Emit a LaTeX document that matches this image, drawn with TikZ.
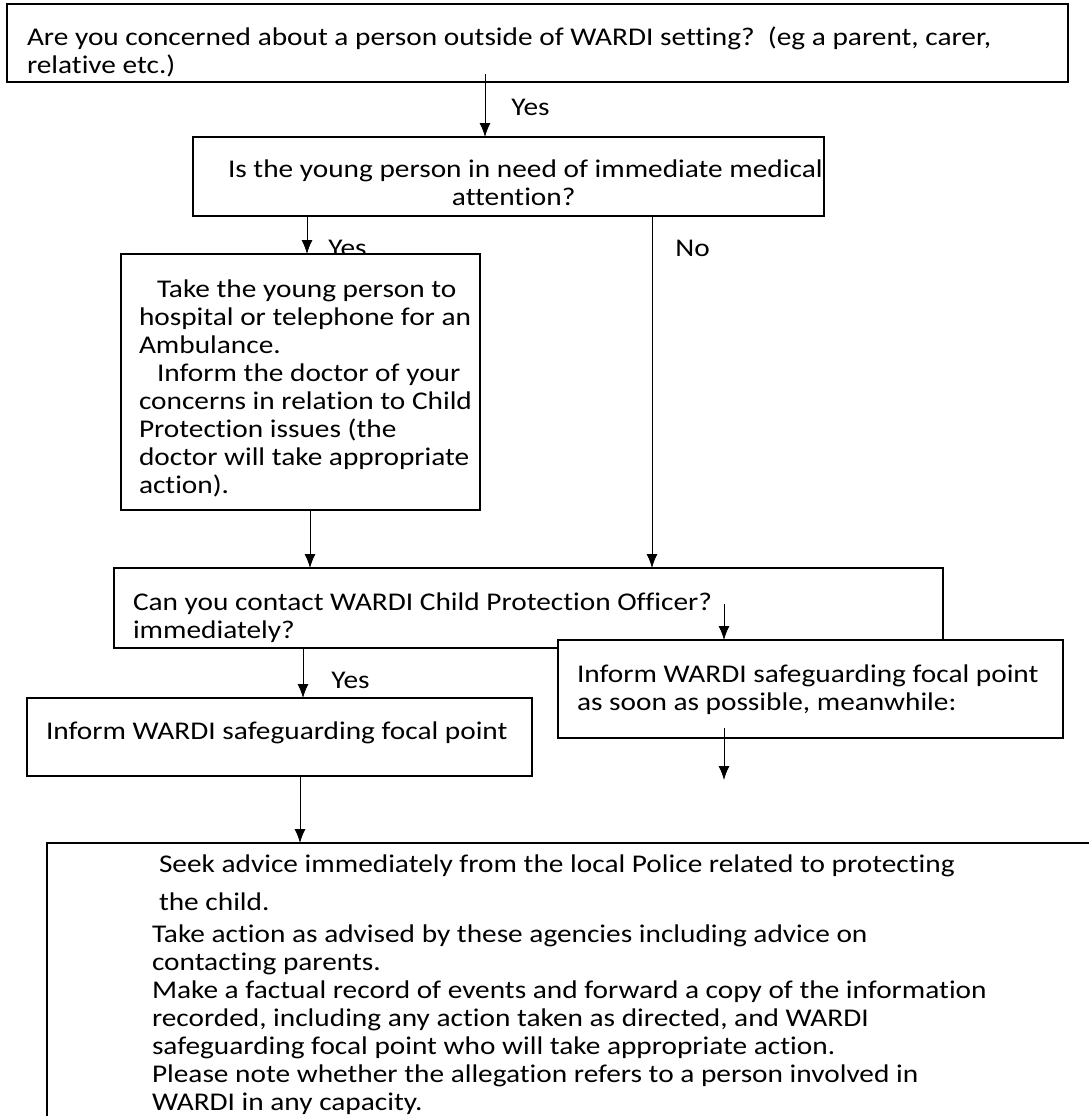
\documentclass[tikz,border=0pt]{standalone}
\usepackage{fontspec}
\setmainfont{Carlito}[FakeStretch=1.15,Ligatures=NoCommon]
\usetikzlibrary{arrows.meta}
\tikzset{box/.style={draw,line width=1pt,fill=white,inner sep=0pt,outer sep=0pt,anchor=north west},
  lab/.style={anchor=base west,inner sep=0pt},
  arr/.style={-{Latex[length=7pt,width=5.5pt]},line width=0.5pt}}
% width, height, left pad, first baseline, lines
\newcommand{\boxtext}[5]{\parbox[t][#2][t]{#1}{\raggedright\leftskip=#3\relax\rightskip=-40pt plus 1fil\relax
  \vspace*{\dimexpr#4-0.7\baselineskip\relax}\strut#5}}

\begin{document}
\begin{tikzpicture}[x=0.5pt,y=-0.5pt,font=\fontsize{12.75}{14}\selectfont]
    \useasboundingbox (0,0) rectangle (1089,1116);

    \node[box] (q1) at (7,4) {\boxtext{530.5pt}{39pt}{10pt}{20.5pt}{Are you concerned about a person outside of WARDI setting?~~(eg a parent, carer,\\relative etc.)}};
    \node[box] (q2) at (193,137) {\boxtext{315.5pt}{39.5pt}{17.5pt}{20pt}{Is the young person in need of immediate medical\\\hspace*{112pt}attention?}};

    \node[lab] (y1) at (511,115) {Yes};
    \node[lab] (y2) at (328,256) {Yes};
    \node[lab] (n1) at (675,256) {No};
    \node[lab] (y3) at (331,688) {Yes};

    \node[box] (a1) at (121,254) {\boxtext{179.5pt}{128pt}{9pt}{21.5pt}{\hspace*{9pt}Take the young person to\\hospital or telephone for an\\Ambulance.\\\hspace*{9pt}Inform the doctor of your\\concerns in relation to Child\\Protection issues (the\\doctor will take appropriate\\action).}};
    \node[box] (q3) at (114,568) {\boxtext{414.5pt}{40pt}{9.5pt}{21pt}{Can you contact WARDI Child Protection Officer?\\immediately?}};
    \node[box] (a3) at (558,640) {\boxtext{252.5pt}{49pt}{9.5pt}{21pt}{Inform WARDI safeguarding focal point\\as soon as possible, meanwhile:}};
    \node[box] (a2) at (27,698) {\boxtext{252.5pt}{39pt}{9.5pt}{20.5pt}{Inform WARDI safeguarding focal point}};
    \node[box] (fin) at (47,843) {\boxtext{526.5pt}{150pt}{52.5pt}{14.5pt}{\hspace*{3.5pt}Seek advice immediately from the local Police related to protecting\\[5pt]\hspace*{3.5pt}the child.\\[2pt]Take action as advised by these agencies including advice on\\contacting parents.\\Make a factual record of events and forward a copy of the information\\recorded, including any action taken as directed, and WARDI\\safeguarding focal point who will take appropriate action.\\Please note whether the allegation refers to a person involved in\\WARDI in any capacity.}};

    \coordinate (x1) at (485,0);
    \coordinate (x2) at (307,0);
    \coordinate (x3) at (652,0);
    \coordinate (x4) at (310,0);
    \coordinate (x5) at (303,0);
    \coordinate (x6) at (724,0);
    \coordinate (x7) at (300,0);
    \coordinate (e1) at (724,780);

    \draw[arr] ([yshift=4pt]q1.south -| x1) -- (q2.north -| x1);
    \draw[arr] (q2.south -| x2) -- (a1.north -| x2);
    \draw[arr] (q2.south -| x3) -- (q3.north -| x3);
    \draw[arr] (a1.south -| x4) -- (q3.north -| x4);
    \draw[arr] (q3.south -| x5) -- (a2.north -| x5);
    \draw[arr] ([yshift=18pt]a3.north -| x6) -- (a3.north -| x6);
    \draw[arr] ([yshift=5pt]a3.south -| x6) -- (e1);
    \draw[arr] (a2.south -| x7) -- (fin.north -| x7);
\end{tikzpicture}
\end{document}
